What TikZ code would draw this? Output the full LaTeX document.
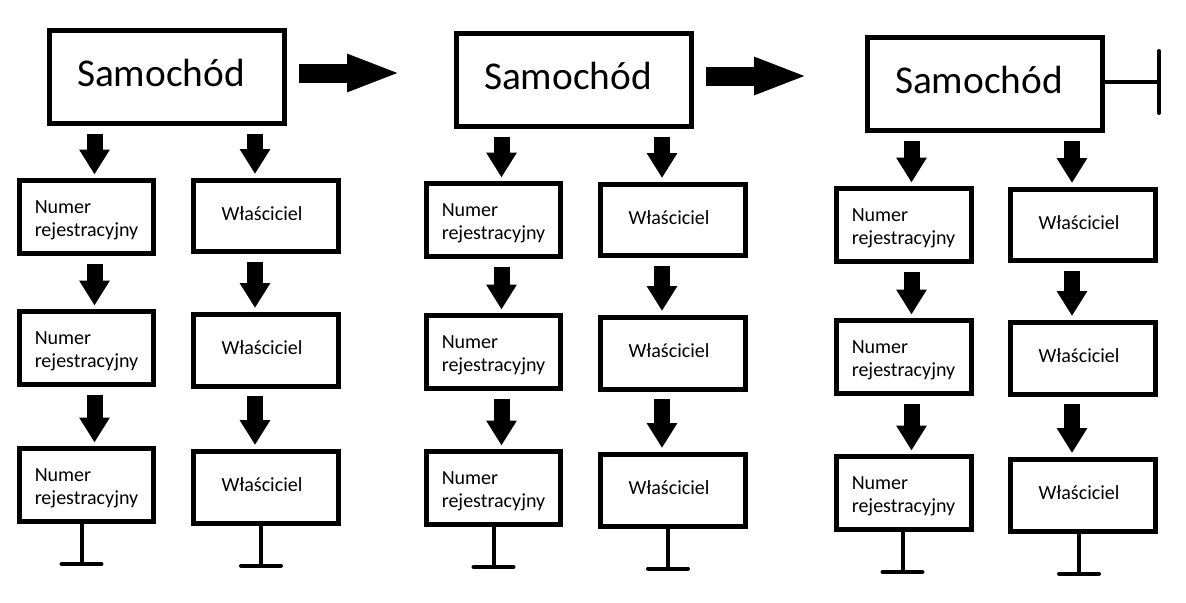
\documentclass[tikz,border=0pt]{standalone}
\usepackage{fontspec}
\setmainfont{Carlito}
\usetikzlibrary{arrows.meta}
\usetikzlibrary{calc}

\newcommand{\numtxt}{\rule{0pt}{11.3pt}Numer\\rejestracyjny}

\tikzset{
	samobox/.style={draw, line width=0.1cm, minimum width=4.7cm, minimum height=1.86cm, inner sep=0pt,
		text height=16pt, text depth=5.2pt, font=\fontsize{22.4}{27}\selectfont,
		execute at end node={\hspace{0.24cm}}},
	numbox/.style={draw, line width=0.1cm, minimum width=2.7cm, minimum height=1.46cm, inner sep=0pt,
		align=left, font=\fontsize{11.4}{13}\selectfont},
	wlbox/.style={draw, line width=0.1cm, minimum width=2.9cm, minimum height=1.44cm, inner sep=0pt,
		text height=8pt, text depth=2.4pt, font=\fontsize{11.4}{13}\selectfont,
		execute at end node={\hspace{0.16cm}}},
	downarr/.style={line width=0.32cm, -{Triangle[width=0.58cm,length=0.5cm]}, shorten <=0.16cm, shorten >=0.07cm},
	bigright/.style={line width=0.38cm, -{Triangle[width=0.68cm,length=1.08cm]}},
	endbar/.style={line width=0.08cm, -{Bar[width=0.8cm,round]}},
}

\begin{document}
\begin{tikzpicture}[x=0.02cm, y=-0.02cm]
	\fill[white] (0,0) rectangle (1186,602);
	
	% pierwszy
	\node[samobox] (s1) at (167,77) {Samochód};
	\node[numbox] (n11) at (86.5,217) {\numtxt};
	\node[wlbox] (w11) at (266,216) {Właściciel};
	\node[numbox] (n12) at (86.5,348) {\numtxt};
	\node[wlbox] (w12) at (266,350) {Właściciel};
	\node[numbox] (n13) at (86.5,485) {\numtxt};
	\node[wlbox] (w13) at (266,487) {Właściciel};
	
	\draw[downarr] ($(s1.south -| n11)+(8,0)$) -- ($(n11.north)+(8,0)$);
	\draw[downarr] ($(s1.south -| w11)+(-11,0)$) -- ($(w11.north)+(-11,0)$);
	\draw[downarr] ($(n11.south)+(8,0)$) -- ($(n12.north)+(8,0)$);
	\draw[downarr] ($(w11.south)+(-11,0)$) -- ($(w12.north)+(-11,0)$);
	\draw[downarr] ($(n12.south)+(8,0)$) -- ($(n13.north)+(8,0)$);
	\draw[downarr] ($(w12.south)+(-11,0)$) -- ($(w13.north)+(-11,0)$);
	\draw[endbar] ($(n13.south)+(-5,0)$) -- ++(0,42);
	\draw[endbar] ($(w13.south)+(-5,0)$) -- ++(0,42);
	
	% drugi
	\node[samobox] (s2) at (574,80) {Samochód};
	\node[numbox] (n21) at (493.5,220) {\numtxt};
	\node[wlbox] (w21) at (673,220) {Właściciel};
	\node[numbox] (n22) at (493.5,352) {\numtxt};
	\node[wlbox] (w22) at (673,353) {Właściciel};
	\node[numbox] (n23) at (493.5,488) {\numtxt};
	\node[wlbox] (w23) at (673,490) {Właściciel};
	
	\draw[bigright] ($(s1.east)+(12,-4)$) -- ($(s2.west |- s1.east)+(-53,-4)$);
	\draw[downarr] ($(s2.south -| n21)+(8,0)$) -- ($(n21.north)+(8,0)$);
	\draw[downarr] ($(s2.south -| w21)+(-11,0)$) -- ($(w21.north)+(-11,0)$);
	\draw[downarr] ($(n21.south)+(8,0)$) -- ($(n22.north)+(8,0)$);
	\draw[downarr] ($(w21.south)+(-11,0)$) -- ($(w22.north)+(-11,0)$);
	\draw[downarr] ($(n22.south)+(8,0)$) -- ($(n23.north)+(8,0)$);
	\draw[downarr] ($(w22.south)+(-11,0)$) -- ($(w23.north)+(-11,0)$);
	\draw[endbar] ($(n23.south)+(0,0)$) -- ++(0,42);
	\draw[endbar] ($(w23.south)+(-5,0)$) -- ++(0,42);
	
	% trzeci
	\node[samobox] (s3) at (985,84) {Samochód};
	\node[numbox] (n31) at (903.5,225) {\numtxt};
	\node[wlbox] (w31) at (1083,225) {Właściciel};
	\node[numbox] (n32) at (903.5,357) {\numtxt};
	\node[wlbox] (w32) at (1083,358) {Właściciel};
	\node[numbox] (n33) at (903.5,493) {\numtxt};
	\node[wlbox] (w33) at (1083,495) {Właściciel};
	
	\draw[bigright] ($(s2.east)+(12,-4)$) -- ($(s3.west |- s2.east)+(-57,-4)$);
	\draw[endbar, -{Bar[width=1.24cm,round]}] ($(s3.east)+(0,-2)$) -- ++(56,0);
	\draw[downarr] ($(s3.south -| n31)+(8,0)$) -- ($(n31.north)+(8,0)$);
	\draw[downarr] ($(s3.south -| w31)+(-11,0)$) -- ($(w31.north)+(-11,0)$);
	\draw[downarr] ($(n31.south)+(8,0)$) -- ($(n32.north)+(8,0)$);
	\draw[downarr] ($(w31.south)+(-11,0)$) -- ($(w32.north)+(-11,0)$);
	\draw[downarr] ($(n32.south)+(8,0)$) -- ($(n33.north)+(8,0)$);
	\draw[downarr] ($(w32.south)+(-11,0)$) -- ($(w33.north)+(-11,0)$);
	\draw[endbar] ($(n33.south)+(-1,0)$) -- ++(0,42);
	\draw[endbar] ($(w33.south)+(-4,0)$) -- ++(0,42);
\end{tikzpicture}
\end{document}
